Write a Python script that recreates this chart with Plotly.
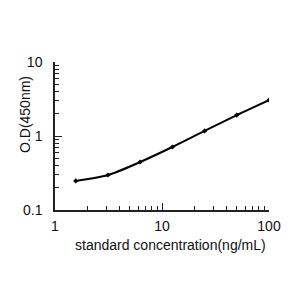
import plotly.graph_objects as go

conc = [1.5625, 3.125, 6.25, 12.5, 25, 50, 100]
od = [0.247, 0.297, 0.445, 0.71, 1.17, 1.92, 3.06]

x_major = [1, 10, 100]
y_major = [0.1, 1, 10]
x_minor = [2, 3, 4, 5, 6, 7, 8, 9, 20, 30, 40, 50, 60, 70, 80, 90]
y_minor = [0.2, 0.3, 0.4, 0.5, 0.6, 0.7, 0.8, 0.9, 2, 3, 4, 5, 6, 7, 8, 9]

font = "Liberation Sans, Arial, sans-serif"

fig = go.Figure()
fig.add_trace(go.Scatter(
    x=conc, y=od, mode="lines+markers",
    line=dict(color="black", width=2, shape="spline", smoothing=0.8),
    marker=dict(symbol="diamond", size=4, color="black"),
    showlegend=False,
))

axis_common = dict(
    showgrid=False, zeroline=False, showline=True, linecolor="#222", linewidth=1.5,
    ticks="inside", ticklen=7, tickcolor="#222", tickwidth=1,
    tickfont=dict(family=font, size=14, color="#111"),
    tickmode="array",
)

fig.update_xaxes(type="log", range=[0, 2], tickvals=x_major, ticktext=["1", "10", "100"],
                 minor=dict(tickmode="array", tickvals=x_minor, ticks="inside", ticklen=4,
                            tickcolor="#222", showgrid=False),
                 ticklabelstandoff=2,
                 **axis_common)
fig.update_yaxes(type="log", range=[-1, 1], tickvals=y_major, ticktext=["0.1", "1", "10"],
                 minor=dict(tickmode="array", tickvals=y_minor, ticks="inside", ticklen=4,
                            tickcolor="#222", showgrid=False),
                 ticklabelstandoff=8,
                 **axis_common)

fig.add_annotation(text="standard concentration(ng/mL)", xref="paper", yref="paper",
                   x=(170.5 - 55) / 214, y=-(245 - 210) / 148, showarrow=False,
                   xanchor="center", yanchor="middle",
                   font=dict(family=font, size=14, color="#111"))
fig.add_annotation(text="O.D(450nm)", xref="paper", yref="paper",
                   x=-(55 - 25) / 214, y=(210 - 115) / 148, showarrow=False, textangle=-90,
                   xanchor="center", yanchor="middle",
                   font=dict(family=font, size=14, color="#111"))

fig.update_layout(
    width=300, height=300,
    margin=dict(l=55, r=31, t=62, b=90),
    plot_bgcolor="white", paper_bgcolor="white",
)

fig.write_html("out.html")
